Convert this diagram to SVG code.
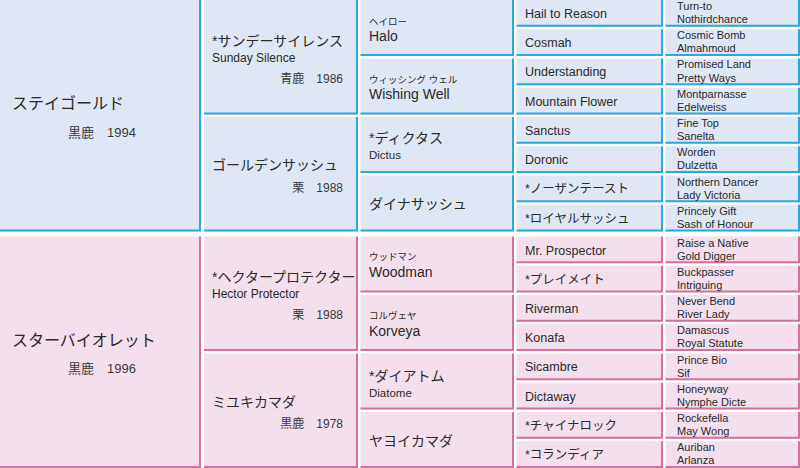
<svg xmlns="http://www.w3.org/2000/svg" width="800" height="468" viewBox="0 0 800 468">
<style>
text{font-family:"Liberation Sans","Noto Sans CJK JP",sans-serif;fill:#2a2a2a}
.fb{fill:#dfe7f4}.fp{fill:#f3e0ec}
.bb{fill:none;stroke:#2aa8e0;stroke-width:2}.bp{fill:none;stroke:#d5709e;stroke-width:2}
.c1{font-size:16px}.y1{font-size:13px;fill:#3a3a3a}
.j2{font-size:14px}.e2{font-size:12px}.y2{font-size:12px;fill:#3a3a3a;text-anchor:end}
.k3{font-size:9.5px}.e3{font-size:14px}.j3{font-size:14px}.s3{font-size:11.5px}
.t4{font-size:12.5px}.t5{font-size:11px}
</style>
<rect width="800" height="468" fill="#fff"/>
<g id="n-stay-gold"><rect class="fb" x="0" y="0" width="201" height="231.5"/><path class="bb" d="M200,0V230.5H0"/><text class="c1" x="12" y="109">ステイゴールド</text><text class="y1" x="68" y="137">黒鹿　1994</text></g>
<g id="n-star-violet"><rect class="fp" x="0" y="236.5" width="201" height="231.5"/><path class="bp" d="M200,236.5V467H0"/><text class="c1" x="12" y="346">スターバイオレット</text><text class="y1" x="68" y="373">黒鹿　1996</text></g>

<g id="n-sunday-silence"><rect class="fb" x="204" y="0" width="154" height="114.5"/><path class="bb" d="M357,0V113.5H204"/><text class="j2" x="212" y="45.5">*サンデーサイレンス</text><text class="e2" x="212" y="61.5">Sunday Silence</text><text class="y2" x="343" y="83">青鹿　1986</text></g>
<g id="n-golden-sash"><rect class="fb" x="204" y="117" width="154" height="114.5"/><path class="bb" d="M357,117V230.5H204"/><text class="j2" x="212" y="170">ゴールデンサッシュ</text><text class="y2" x="343" y="192">栗　1988</text></g>
<g id="n-hector-protector"><rect class="fp" x="204" y="236.5" width="154" height="114.5"/><path class="bp" d="M357,236.5V350H204"/><text class="j2" x="212" y="281.5">*ヘクタープロテクター</text><text class="e2" x="212" y="298">Hector Protector</text><text class="y2" x="343" y="319">栗　1988</text></g>
<g id="n-miyuki-kamada"><rect class="fp" x="204" y="353.5" width="154" height="114.5"/><path class="bp" d="M357,353.5V467H204"/><text class="j2" x="212" y="406.5">ミユキカマダ</text><text class="y2" x="343" y="428">黒鹿　1978</text></g>

<g id="n-halo"><rect class="fb" x="360.5" y="0" width="153.5" height="56"/><path class="bb" d="M513,0V55H360.5"/><text class="k3" x="369" y="24.5">ヘイロー</text><text class="e3" x="369" y="41">Halo</text></g>
<g id="n-wishing-well"><rect class="fb" x="360.5" y="58.5" width="153.5" height="56"/><path class="bb" d="M513,58.5V113.5H360.5"/><text class="k3" x="369" y="82.5">ウィッシング ウェル</text><text class="e3" x="369" y="99">Wishing Well</text></g>
<g id="n-dictus"><rect class="fb" x="360.5" y="117" width="153.5" height="56"/><path class="bb" d="M513,117V172H360.5"/><text class="j3" x="369" y="143">*ディクタス</text><text class="s3" x="369" y="159">Dictus</text></g>
<g id="n-dyna-sash"><rect class="fb" x="360.5" y="175.5" width="153.5" height="56"/><path class="bb" d="M513,175.5V230.5H360.5"/><text class="j3" x="369" y="209">ダイナサッシュ</text></g>
<g id="n-woodman"><rect class="fp" x="360.5" y="236.5" width="153.5" height="56"/><path class="bp" d="M513,236.5V291.5H360.5"/><text class="k3" x="369" y="259.5">ウッドマン</text><text class="e3" x="369" y="277">Woodman</text></g>
<g id="n-korveya"><rect class="fp" x="360.5" y="295" width="153.5" height="56"/><path class="bp" d="M513,295V350H360.5"/><text class="k3" x="369" y="318.5">コルヴェヤ</text><text class="e3" x="369" y="335.5">Korveya</text></g>
<g id="n-diatome"><rect class="fp" x="360.5" y="353.5" width="153.5" height="56"/><path class="bp" d="M513,353.5V408.5H360.5"/><text class="j3" x="369" y="380.5">*ダイアトム</text><text class="s3" x="369" y="396.5">Diatome</text></g>
<g id="n-yayoi-kamada"><rect class="fp" x="360.5" y="412" width="153.5" height="56"/><path class="bp" d="M513,412V467H360.5"/><text class="j3" x="369" y="445.5">ヤヨイカマダ</text></g>

<g id="n-hail-to-reason"><rect class="fb" x="516.5" y="0" width="146.5" height="26.75"/><path class="bb" d="M662,0V25.75H516.5"/><text class="t4" x="525" y="17.8">Hail to Reason</text></g>
<g id="n-cosmah"><rect class="fb" x="516.5" y="29.25" width="146.5" height="26.75"/><path class="bb" d="M662,29.25V55H516.5"/><text class="t4" x="525" y="47">Cosmah</text></g>
<g id="n-understanding"><rect class="fb" x="516.5" y="58.5" width="146.5" height="26.75"/><path class="bb" d="M662,58.5V84.25H516.5"/><text class="t4" x="525" y="76.3">Understanding</text></g>
<g id="n-mountain-flower"><rect class="fb" x="516.5" y="87.75" width="146.5" height="26.75"/><path class="bb" d="M662,87.75V113.5H516.5"/><text class="t4" x="525" y="105.5">Mountain Flower</text></g>
<g id="n-sanctus"><rect class="fb" x="516.5" y="117" width="146.5" height="26.75"/><path class="bb" d="M662,117V142.75H516.5"/><text class="t4" x="525" y="134.8">Sanctus</text></g>
<g id="n-doronic"><rect class="fb" x="516.5" y="146.25" width="146.5" height="26.75"/><path class="bb" d="M662,146.25V172H516.5"/><text class="t4" x="525" y="164">Doronic</text></g>
<g id="n-northern-taste"><rect class="fb" x="516.5" y="175.5" width="146.5" height="26.75"/><path class="bb" d="M662,175.5V201.25H516.5"/><text class="t4" x="525" y="193.3">*ノーザンテースト</text></g>
<g id="n-royal-sash"><rect class="fb" x="516.5" y="204.75" width="146.5" height="26.75"/><path class="bb" d="M662,204.75V230.5H516.5"/><text class="t4" x="525" y="222.5">*ロイヤルサッシュ</text></g>
<g id="n-mr-prospector"><rect class="fp" x="516.5" y="236.5" width="146.5" height="26.75"/><path class="bp" d="M662,236.5V262.25H516.5"/><text class="t4" x="525" y="254.5">Mr. Prospector</text></g>
<g id="n-playmate"><rect class="fp" x="516.5" y="265.75" width="146.5" height="26.75"/><path class="bp" d="M662,265.75V291.5H516.5"/><text class="t4" x="525" y="283.6">*プレイメイト</text></g>
<g id="n-riverman"><rect class="fp" x="516.5" y="295" width="146.5" height="26.75"/><path class="bp" d="M662,295V320.75H516.5"/><text class="t4" x="525" y="312.9">Riverman</text></g>
<g id="n-konafa"><rect class="fp" x="516.5" y="324.25" width="146.5" height="26.75"/><path class="bp" d="M662,324.25V350H516.5"/><text class="t4" x="525" y="342.1">Konafa</text></g>
<g id="n-sicambre"><rect class="fp" x="516.5" y="353.5" width="146.5" height="26.75"/><path class="bp" d="M662,353.5V379.25H516.5"/><text class="t4" x="525" y="371.4">Sicambre</text></g>
<g id="n-dictaway"><rect class="fp" x="516.5" y="382.75" width="146.5" height="26.75"/><path class="bp" d="M662,382.75V408.5H516.5"/><text class="t4" x="525" y="400.6">Dictaway</text></g>
<g id="n-china-rock"><rect class="fp" x="516.5" y="412" width="146.5" height="26.75"/><path class="bp" d="M662,412V437.75H516.5"/><text class="t4" x="525" y="429.9">*チャイナロック</text></g>
<g id="n-corandia"><rect class="fp" x="516.5" y="441.25" width="146.5" height="26.75"/><path class="bp" d="M662,441.25V467H516.5"/><text class="t4" x="525" y="459.1">*コランディア</text></g>

<g id="n-g5-1"><rect class="fb" x="665.5" y="0" width="134.5" height="26.75"/><path class="bb" d="M799,0V25.75H665.5"/><text class="t5" x="677" y="9.8">Turn-to</text><text class="t5" x="677" y="23">Nothirdchance</text></g>
<g id="n-g5-2"><rect class="fb" x="665.5" y="29.25" width="134.5" height="26.75"/><path class="bb" d="M799,29.25V55H665.5"/><text class="t5" x="677" y="39.2">Cosmic Bomb</text><text class="t5" x="677" y="52.3">Almahmoud</text></g>
<g id="n-g5-3"><rect class="fb" x="665.5" y="58.5" width="134.5" height="26.75"/><path class="bb" d="M799,58.5V84.25H665.5"/><text class="t5" x="677" y="68.4">Promised Land</text><text class="t5" x="677" y="81.5">Pretty Ways</text></g>
<g id="n-g5-4"><rect class="fb" x="665.5" y="87.75" width="134.5" height="26.75"/><path class="bb" d="M799,87.75V113.5H665.5"/><text class="t5" x="677" y="97.7">Montparnasse</text><text class="t5" x="677" y="110.8">Edelweiss</text></g>
<g id="n-g5-5"><rect class="fb" x="665.5" y="117" width="134.5" height="26.75"/><path class="bb" d="M799,117V142.75H665.5"/><text class="t5" x="677" y="127">Fine Top</text><text class="t5" x="677" y="140">Sanelta</text></g>
<g id="n-g5-6"><rect class="fb" x="665.5" y="146.25" width="134.5" height="26.75"/><path class="bb" d="M799,146.25V172H665.5"/><text class="t5" x="677" y="156.2">Worden</text><text class="t5" x="677" y="169.3">Dulzetta</text></g>
<g id="n-g5-7"><rect class="fb" x="665.5" y="175.5" width="134.5" height="26.75"/><path class="bb" d="M799,175.5V201.25H665.5"/><text class="t5" x="677" y="185.5">Northern Dancer</text><text class="t5" x="677" y="198.5">Lady Victoria</text></g>
<g id="n-g5-8"><rect class="fb" x="665.5" y="204.75" width="134.5" height="26.75"/><path class="bb" d="M799,204.75V230.5H665.5"/><text class="t5" x="677" y="214.7">Princely Gift</text><text class="t5" x="677" y="227.8">Sash of Honour</text></g>
<g id="n-g5-9"><rect class="fp" x="665.5" y="236.5" width="134.5" height="26.75"/><path class="bp" d="M799,236.5V262.25H665.5"/><text class="t5" x="677" y="246.5">Raise a Native</text><text class="t5" x="677" y="259.5">Gold Digger</text></g>
<g id="n-g5-10"><rect class="fp" x="665.5" y="265.75" width="134.5" height="26.75"/><path class="bp" d="M799,265.75V291.5H665.5"/><text class="t5" x="677" y="275.7">Buckpasser</text><text class="t5" x="677" y="288.8">Intriguing</text></g>
<g id="n-g5-11"><rect class="fp" x="665.5" y="295" width="134.5" height="26.75"/><path class="bp" d="M799,295V320.75H665.5"/><text class="t5" x="677" y="305">Never Bend</text><text class="t5" x="677" y="318">River Lady</text></g>
<g id="n-g5-12"><rect class="fp" x="665.5" y="324.25" width="134.5" height="26.75"/><path class="bp" d="M799,324.25V350H665.5"/><text class="t5" x="677" y="334.2">Damascus</text><text class="t5" x="677" y="347.3">Royal Statute</text></g>
<g id="n-g5-13"><rect class="fp" x="665.5" y="353.5" width="134.5" height="26.75"/><path class="bp" d="M799,353.5V379.25H665.5"/><text class="t5" x="677" y="363.5">Prince Bio</text><text class="t5" x="677" y="376.5">Sif</text></g>
<g id="n-g5-14"><rect class="fp" x="665.5" y="382.75" width="134.5" height="26.75"/><path class="bp" d="M799,382.75V408.5H665.5"/><text class="t5" x="677" y="392.7">Honeyway</text><text class="t5" x="677" y="405.8">Nymphe Dicte</text></g>
<g id="n-g5-15"><rect class="fp" x="665.5" y="412" width="134.5" height="26.75"/><path class="bp" d="M799,412V437.75H665.5"/><text class="t5" x="677" y="422">Rockefella</text><text class="t5" x="677" y="435">May Wong</text></g>
<g id="n-g5-16"><rect class="fp" x="665.5" y="441.25" width="134.5" height="26.75"/><path class="bp" d="M799,441.25V467H665.5"/><text class="t5" x="677" y="451.2">Auriban</text><text class="t5" x="677" y="464.3">Arlanza</text></g>
</svg>
